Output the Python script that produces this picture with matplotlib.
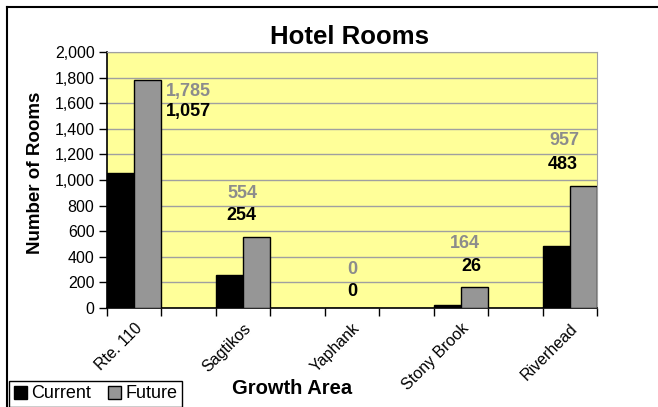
import numpy as np
import matplotlib
matplotlib.use("Agg")
import matplotlib.pyplot as plt
from matplotlib.lines import Line2D
from matplotlib.patches import Patch

# --- data ---
areas = ["Rte. 110", "Sagtikos", "Yaphank", "Stony Brook", "Riverhead"]
current = [1057, 254, 0, 26, 483]
future = [1785, 554, 0, 164, 957]
y_ticks = [0, 200, 400, 600, 800, 1000, 1200, 1400, 1600, 1800, 2000]

# --- label placement (data coords), hand placed like the original ---
future_label_xy = [(0.50, 1688), (0.99, 898), (2.00, 297), (3.04, 505), (3.95, 1312)]
current_label_xy = [(0.50, 1534), (0.98, 719), (2.00, 127), (3.10, 323), (3.94, 1122)]

plt.rcParams['font.family'] = ['Liberation Sans', 'DejaVu Sans']

W, H = 658, 407
fig = plt.figure(figsize=(W / 100, H / 100), dpi=100)
ax = fig.add_axes([107 / W, 1 - 308 / H, 490 / W, 256 / H])

x = np.arange(len(areas))
bw = 0.25
ax.set_facecolor("#FFFF99")
ax.bar(x - bw / 2, current, bw, color="black", edgecolor="black", linewidth=1, zorder=3)
ax.bar(x + bw / 2, future, bw, color="#969696", edgecolor="black", linewidth=1, zorder=3)

ax.set_xlim(-0.25, len(areas) - 0.75)
ax.set_ylim(0, 2000)

# grid
ax.set_yticks(y_ticks)
ax.set_yticklabels([f"{v:,}" for v in y_ticks], fontsize=11.5)
ax.yaxis.grid(True, color="#A0A0A0", linewidth=1, zorder=0)
ax.tick_params(axis="y", direction="out", length=6, width=1, pad=3)

# categories: labels at centres, tick marks at group edges
ax.set_xticks(x)
ax.set_xticklabels(areas, rotation=45, ha="right", rotation_mode="anchor", fontsize=11.5)
ax.tick_params(axis="x", which="major", length=0, pad=9)
edges = np.concatenate([x - 0.25, x + 0.25])
ax.set_xticks(edges, minor=True)
ax.tick_params(axis="x", which="minor", direction="out", length=6, width=1)

for side in ["top", "right"]:
    ax.spines[side].set_color("#A0A0A0")
for side in ["left", "bottom"]:
    ax.spines[side].set_color("black")
    ax.spines[side].set_linewidth(1.2)

# data labels
for (fx, fy), v in zip(future_label_xy, future):
    ax.text(fx, fy, f"{v:,}", color="#8C8C8C", fontsize=13, fontweight="bold",
            ha="center", va="center", zorder=4)
for (cx, cy), v in zip(current_label_xy, current):
    ax.text(cx, cy, f"{v:,}", color="black", fontsize=13, fontweight="bold",
            ha="center", va="center", zorder=4)

# titles
fig.text(350 / W, 1 - 37 / H, "Hotel Rooms", fontsize=18.5, fontweight="bold",
         ha="center", va="center")
fig.text(292 / W, 1 - 389 / H, "Growth Area", fontsize=14.5, fontweight="bold",
         ha="center", va="center")
fig.text(36 / W, 1 - 173 / H, "Number of Rooms", fontsize=13.5, fontweight="bold",
         rotation=90, ha="center", va="center")

# outer chart border (clipped by the image on right and bottom)
fig.add_artist(Line2D([7 / W, 7 / W], [0, 1 - 7 / H], transform=fig.transFigure,
                      color="black", linewidth=1.5))
fig.add_artist(Line2D([7 / W, 1], [1 - 7 / H, 1 - 7 / H], transform=fig.transFigure,
                      color="black", linewidth=1.5))

# legend
handles = [Patch(facecolor="black", edgecolor="black", label="Current"),
           Patch(facecolor="#969696", edgecolor="black", label="Future")]
leg = fig.legend(handles=handles, loc="lower left", bbox_to_anchor=(9 / W, 0 / H),
                 ncol=2, fontsize=13, frameon=True, fancybox=False,
                 edgecolor="black", framealpha=1, borderpad=0.25,
                 handlelength=0.75, handleheight=0.75, handletextpad=0.25,
                 columnspacing=0.9, borderaxespad=0)
leg.get_frame().set_linewidth(1)

fig.savefig("out.png", dpi=100)
